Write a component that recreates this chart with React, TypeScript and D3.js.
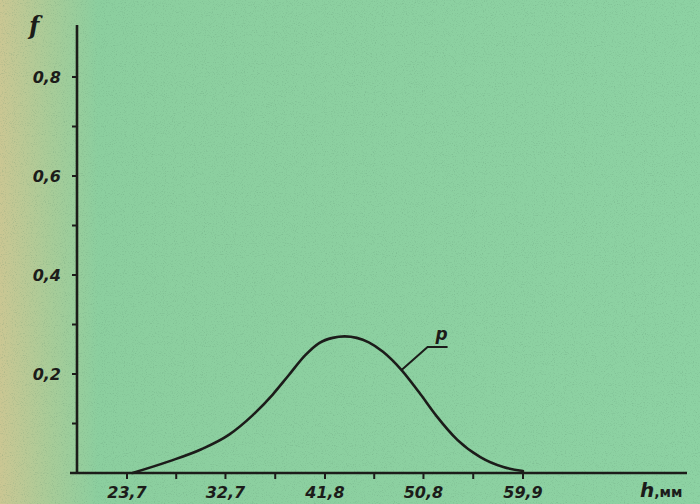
import React, { useRef, useEffect } from 'react';
import * as d3 from 'd3';

const W = 700;
const H = 504;

// curve p(h)
const hValues = [24.2, 27.6, 30.5, 33.0, 35.2, 37.0, 38.5, 40.0, 41.3, 42.5, 43.6, 44.7, 45.8, 47.1, 48.8, 50.4, 52.0, 53.9, 56.0, 58.1, 59.9];
const pValues = [0.0, 0.024, 0.048, 0.077, 0.117, 0.158, 0.198, 0.238, 0.263, 0.273, 0.276, 0.273, 0.264, 0.245, 0.208, 0.163, 0.115, 0.067, 0.032, 0.012, 0.004];

const xTicks = [23.7, 32.7, 41.8, 50.8, 59.9];
const xTickLabels = ['23,7', '32,7', '41,8', '50,8', '59,9'];
const xMinorTicks = [28.2, 37.25, 46.3, 55.35];
const yTicks = [0.2, 0.4, 0.6, 0.8];
const yTickLabels = ['0,2', '0,4', '0,6', '0,8'];
const yMinorTicks = [0.1, 0.3, 0.5, 0.7];

const INK = '#1c1c1a';
const FONT = '"DejaVu Sans", sans-serif';

export default function App() {
  const svgRef = useRef<SVGSVGElement>(null);

  useEffect(() => {
    if (!svgRef.current) return;
    const svg = d3.select(svgRef.current);
    svg.selectAll('*').remove();

    // 23.7 sits at x=127, 59.9 at x=523
    const x = d3.scaleLinear().domain([23.7, 59.9]).range([127, 523]);
    const y = d3.scaleLinear().domain([0, 0.2]).range([473, 374]);

    // paper
    const defs = svg.append('defs');
    const grad = defs.append('linearGradient').attr('id', 'paper')
      .attr('x1', 0).attr('x2', 1).attr('y1', 0).attr('y2', 0);
    grad.append('stop').attr('offset', '0%').attr('stop-color', '#cbc793');
    grad.append('stop').attr('offset', '7%').attr('stop-color', '#a9cc98');
    grad.append('stop').attr('offset', '14%').attr('stop-color', '#8ccf9f');
    grad.append('stop').attr('offset', '100%').attr('stop-color', '#8dd2a3');
    const filt = defs.append('filter').attr('id', 'grain');
    filt.append('feTurbulence').attr('type', 'fractalNoise')
      .attr('baseFrequency', 0.9).attr('numOctaves', 2).attr('seed', 3);
    filt.append('feColorMatrix').attr('type', 'matrix')
      .attr('values', '0 0 0 0 0.1  0 0 0 0 0.25  0 0 0 0 0.15  0 0 0 -1.6 0.75');

    svg.append('rect').attr('width', W).attr('height', H).attr('fill', 'url(#paper)');
    svg.append('rect').attr('width', W).attr('height', H).attr('filter', 'url(#grain)').attr('opacity', 0.45);

    const x0 = 77;
    const y0 = y(0);

    // axes
    svg.append('line').attr('x1', x0).attr('x2', x0).attr('y1', 25).attr('y2', y0 + 1)
      .attr('stroke', INK).attr('stroke-width', 2.6);
    svg.append('line').attr('x1', 70).attr('x2', 687).attr('y1', y0).attr('y2', y0)
      .attr('stroke', INK).attr('stroke-width', 2.6);

    // y ticks
    svg.append('g').selectAll('line')
      .data([...yTicks, ...yMinorTicks])
      .join('line')
      .attr('x1', x0 - 5).attr('x2', x0)
      .attr('y1', d => y(d)).attr('y2', d => y(d))
      .attr('stroke', INK).attr('stroke-width', 2);

    svg.append('g').selectAll('text')
      .data(yTicks)
      .join('text')
      .attr('x', 61).attr('y', d => y(d) + 6)
      .attr('text-anchor', 'end')
      .attr('font-family', FONT).attr('font-size', 16).attr('font-weight', 700)
      .attr('font-style', 'italic').attr('fill', INK)
      .text((d, i) => yTickLabels[i]);

    // x ticks
    svg.append('g').selectAll('line')
      .data([...xTicks, ...xMinorTicks])
      .join('line')
      .attr('x1', d => x(d)).attr('x2', d => x(d))
      .attr('y1', y0).attr('y2', y0 + 6)
      .attr('stroke', INK).attr('stroke-width', 2);

    svg.append('g').selectAll('text')
      .data(xTicks)
      .join('text')
      .attr('x', d => x(d)).attr('y', 498)
      .attr('text-anchor', 'middle')
      .attr('font-family', FONT).attr('font-size', 16).attr('font-weight', 700)
      .attr('font-style', 'italic').attr('fill', INK)
      .text((d, i) => xTickLabels[i]);

    // axis titles
    svg.append('text')
      .attr('x', 29).attr('y', 34)
      .attr('font-family', '"DejaVu Serif", serif').attr('font-size', 24).attr('font-weight', 700)
      .attr('font-style', 'italic').attr('fill', INK)
      .text('f');

    const hl = svg.append('text')
      .attr('x', 640).attr('y', 497)
      .attr('font-family', FONT).attr('font-weight', 700).attr('fill', INK);
    hl.append('tspan').attr('font-size', 20).attr('font-style', 'italic').text('h');
    hl.append('tspan').attr('font-size', 14).text(',мм');

    // curve
    const pts = hValues.map((h, i) => [h, pValues[i]] as [number, number]);
    const lineGen = d3.line<[number, number]>()
      .x(d => x(d[0]))
      .y(d => y(d[1]))
      .curve(d3.curveMonotoneX);

    svg.append('path')
      .datum(pts)
      .attr('d', lineGen)
      .attr('fill', 'none')
      .attr('stroke', INK)
      .attr('stroke-width', 2.6)
      .attr('stroke-linecap', 'round');

    // leader to curve label
    const ph = 48.8, pp = 0.208;
    svg.append('path')
      .attr('d', `M${x(ph)},${y(pp)} L${x(ph) + 26},${y(pp) - 23} L${x(ph) + 46},${y(pp) - 23}`)
      .attr('fill', 'none').attr('stroke', INK).attr('stroke-width', 2);
    svg.append('text')
      .attr('x', x(ph) + 34).attr('y', y(pp) - 30)
      .attr('font-family', FONT).attr('font-size', 17).attr('font-weight', 700)
      .attr('font-style', 'italic').attr('fill', INK)
      .text('p');
  }, []);

  return (
    <svg ref={svgRef} width={W} height={H}
      style={{ position: 'absolute', left: 0, top: 0, display: 'block' }} />
  );
}
